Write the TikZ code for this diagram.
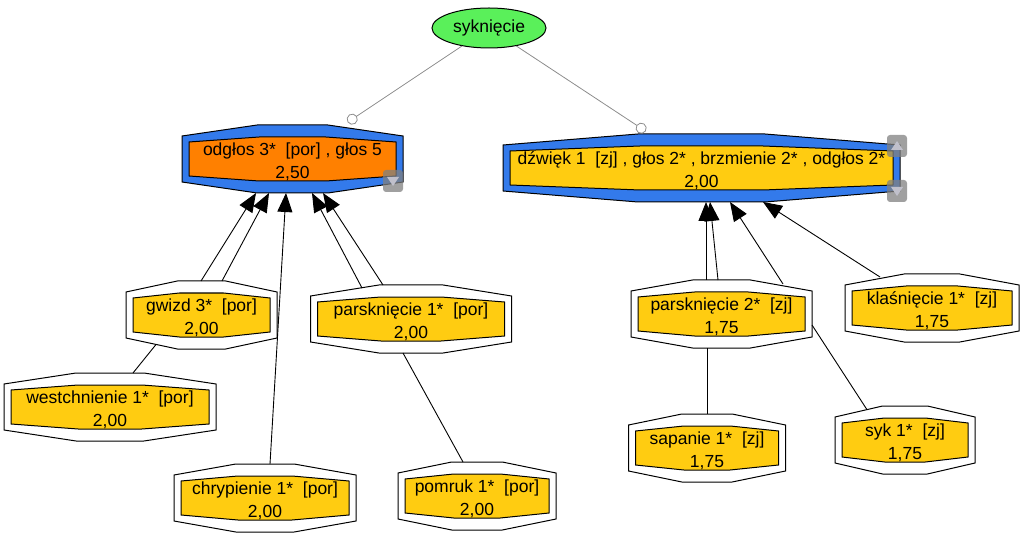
\documentclass[tikz,border=0pt]{standalone}
\usepackage{fontspec}
\setmainfont{Liberation Sans}
\usepackage{tikz}
\usetikzlibrary{calc,arrows.meta,shapes.geometric,backgrounds}
\definecolor{nodeblue}{RGB}{51,122,235}
\definecolor{nodeorange}{RGB}{255,128,0}
\definecolor{nodeyellow}{RGB}{255,204,17}
\definecolor{rootgreen}{RGB}{90,240,90}
\definecolor{edgegrey}{RGB}{140,140,140}
\newcommand{\twoline}[2]{\rule{0pt}{19pt}#1\\#2}
\newcommand{\dbloct}[3]{%
  \begin{pgfonlayer}{background}
    \filldraw[fill=#2, line width=1pt]
      ($(#1.north west)+(0,11)$) -- ($(#1.north west)!.34!(#1.north east)$) --
      ($(#1.north west)!.66!(#1.north east)$) -- ($(#1.north east)+(0,11)$) --
      ($(#1.south east)+(0,-11)$) -- ($(#1.south west)!.66!(#1.south east)$) --
      ($(#1.south west)!.34!(#1.south east)$) -- ($(#1.south west)+(0,-11)$) -- cycle;
    \filldraw[fill=#3, line width=1pt]
      ($(#1.north west)+(7,17)$) -- ($(#1.north west)!.34!(#1.north east)+(2,12)$) --
      ($(#1.north west)!.66!(#1.north east)+(-2,12)$) -- ($(#1.north east)+(-7,17)$) --
      ($(#1.south east)+(-7,-17)$) -- ($(#1.south west)!.66!(#1.south east)+(-2,-12)$) --
      ($(#1.south west)!.34!(#1.south east)+(2,-12)$) -- ($(#1.south west)+(7,-17)$) -- cycle;
  \end{pgfonlayer}}
\newcommand{\scrollbtn}[2]{%
  \fill[black!50, opacity=.75, rounded corners=3pt] ($(#1)+(-10,-11)$) rectangle ($(#1)+(10,11)$);
  \fill[blue!10!gray!45] ($(#1)+(-6,-4*#2)$) -- ($(#1)+(6,-4*#2)$) -- ($(#1)+(0,5*#2)$) -- cycle;}

\begin{document}
\begin{tikzpicture}[x=1pt,y=-1pt,
    oct/.style={minimum width=#1, minimum height=68pt, inner sep=0pt, outer sep=0pt,
      align=center, font=\fontsize{17.5}{23}\selectfont},
    arr/.style={-{Triangle[length=19pt,width=15pt]}, line width=0.9pt},
    plain/.style={line width=0.9pt},
    rootedge/.style={edgegrey, line width=0.8pt, -{Circle[open,length=11pt]}, shorten >=5pt}]
  \useasboundingbox (0,0) rectangle (1024,534);

  \node[ellipse, draw, line width=1pt, fill=rootgreen, minimum width=114pt, minimum height=40pt,
    inner sep=0pt, font=\fontsize{17.5}{23}\selectfont] (root) at (489,28) {syknięcie};

  \node[oct=221] (odg) at (292.5,159) {\twoline{odgłos 3*~ [por] , głos 5}{2,50}};
  \node[oct=397] (dzw) at (701.5,168) {\twoline{dźwięk 1~ [zj] , głos 2* , brzmienie 2* , odgłos 2*}{2,00}};
  \node[oct=151] (gwizd) at (201.5,315) {\twoline{gwizd 3*~ [por]}{2,00}};
  \node[oct=212] (west) at (110,407) {\twoline{westchnienie 1*~ [por]}{2,00}};
  \node[oct=182] (chry) at (265,498) {\twoline{chrypienie 1*~ [por]}{2,00}};
  \node[oct=201] (parsk1) at (411,319) {\twoline{parsknięcie 1*~ [por]}{2,00}};
  \node[oct=158] (pomruk) at (477,496) {\twoline{pomruk 1*~ [por]}{2,00}};
  \node[oct=181] (parsk2) at (721.5,314) {\twoline{parsknięcie 2*~ [zj]}{1,75}};
  \node[oct=174] (klas) at (932,308) {\twoline{klaśnięcie 1*~ [zj]}{1,75}};
  \node[oct=157] (sap) at (707,448) {\twoline{sapanie 1*~ [zj]}{1,75}};
  \node[oct=140] (syk) at (905,440) {\twoline{syk 1*~ [zj]}{1,75}};

  \dbloct{odg}{nodeblue}{nodeorange}
  \dbloct{dzw}{nodeblue}{nodeyellow}
  \dbloct{gwizd}{white}{nodeyellow}
  \dbloct{west}{white}{nodeyellow}
  \dbloct{chry}{white}{nodeyellow}
  \dbloct{parsk1}{white}{nodeyellow}
  \dbloct{pomruk}{white}{nodeyellow}
  \dbloct{parsk2}{white}{nodeyellow}
  \dbloct{klas}{white}{nodeyellow}
  \dbloct{sap}{white}{nodeyellow}
  \dbloct{syk}{white}{nodeyellow}

  \draw[rootedge] (root) -- (odg);
  \draw[rootedge] (root) -- (dzw);

  \draw[arr] ($(gwizd.north)+(-0.5,0)$) -- ($(odg.south)+(-36.5,0)$);
  \draw[arr] ($(gwizd.north)+(20.5,0)$) -- ($(odg.south)+(-23.5,0)$);
  \draw[arr] ($(chry.north)+(5,0)$) -- ($(odg.south)+(-6.5,0)$);
  \draw[arr] ($(parsk1.north)+(-49,3)$) -- ($(odg.south)+(19.5,0)$);
  \draw[arr] ($(parsk1.north)+(-28,0)$) -- ($(odg.south)+(30.5,0)$);
  \draw[plain] ($(west.north)+(23,0)$) -- ($(gwizd.south)+(-45.5,-4.5)$);
  \draw[plain] ($(parsk1.south)+(-8,0)$) -- ($(pomruk.north)+(-14,0)$);

  \draw[arr] ($(parsk2.north)+(-15.5,0)$) -- ($(dzw.south)+(4.5,0)$);
  \draw[arr] ($(parsk2.north)+(-3.5,0)$) -- ($(dzw.south)+(8.5,0)$);
  \draw[arr] ($(parsk2.north)+(61.5,4)$) -- ($(dzw.south)+(28.5,0)$);
  \draw[arr] ($(klas.north)+(-52,3)$) -- ($(dzw.south)+(61.5,0)$);
  \draw[plain] ($(parsk2.south)+(-14.5,0)$) -- (sap.north);
  \draw[plain] ($(parsk2.east)+(0,11)$) -- ($(syk.north)+(-38,3.7)$);

  \coordinate (odgbtn) at ($(odg.south east)+(-10,-12)$);
  \coordinate (dzwup) at ($(dzw.north east)+(-3,12)$);
  \coordinate (dzwdown) at ($(dzw.south east)+(-3,-11)$);
  \scrollbtn{odgbtn}{1}
  \scrollbtn{dzwup}{-1}
  \scrollbtn{dzwdown}{1}
\end{tikzpicture}
\end{document}
